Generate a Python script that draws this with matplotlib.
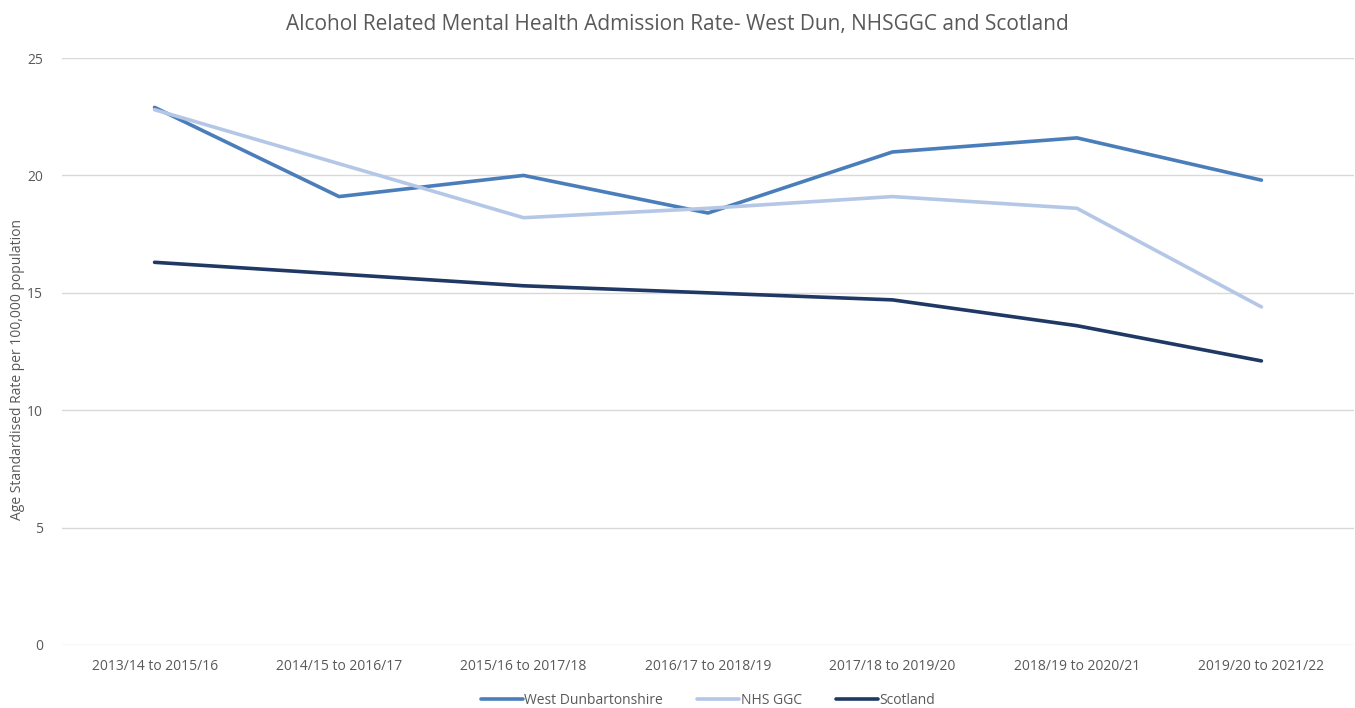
import matplotlib.pyplot as plt

# values
periods = ['2013/14 to 2015/16', '2014/15 to 2016/17', '2015/16 to 2017/18',
           '2016/17 to 2018/19', '2017/18 to 2019/20', '2018/19 to 2020/21',
           '2019/20 to 2021/22']
west_dun = [22.9, 19.1, 20.0, 18.4, 21.0, 21.6, 19.8]
nhs_ggc = [22.8, 20.5, 18.2, 18.6, 19.1, 18.6, 14.4]
scotland = [16.3, 15.8, 15.3, 15.0, 14.7, 13.6, 12.1]

plt.rcParams['font.family'] = ['Open Sans', 'DejaVu Sans']

fig = plt.figure(figsize=(13.55, 7.08), dpi=100)
ax = fig.add_axes([0.046, 0.089, 0.953, 0.829])

x = range(len(periods))
ax.plot(x, west_dun, color='#4A7EBB', lw=2.6, label='West Dunbartonshire', solid_capstyle='round')
ax.plot(x, nhs_ggc, color='#B4C7E7', lw=2.6, label='NHS GGC', solid_capstyle='round')
ax.plot(x, scotland, color='#1F3864', lw=2.6, label='Scotland', solid_capstyle='round')

ax.set_xlim(-0.5, len(periods) - 0.5)
ax.set_ylim(0, 25)
ax.set_yticks([0, 5, 10, 15, 20, 25])
ax.set_xticks(list(x))
ax.set_xticklabels(periods)
ax.grid(axis='y', color='#D9D9D9', lw=1)
ax.set_axisbelow(True)
for s in ax.spines.values():
    s.set_visible(False)
ax.tick_params(length=0, colors='#595959', labelsize=10)
ax.tick_params(axis='y', pad=14)
ax.tick_params(axis='x', pad=10)

ax.set_ylabel('Age Standardised Rate per 100,000 population', color='#595959', fontsize=10)
ax.yaxis.set_label_coords(-0.029, 0.47)
fig.suptitle('Alcohol Related Mental Health Admission Rate- West Dun, NHSGGC and Scotland',
             color='#595959', fontsize=15, y=0.98)

ax.legend(loc='upper center', bbox_to_anchor=(0.5, -0.06), ncol=3, frameon=False,
          fontsize=10, labelcolor='#595959', handlelength=3, handletextpad=0.1, columnspacing=2.5)

fig.savefig('out.png', dpi=100)
